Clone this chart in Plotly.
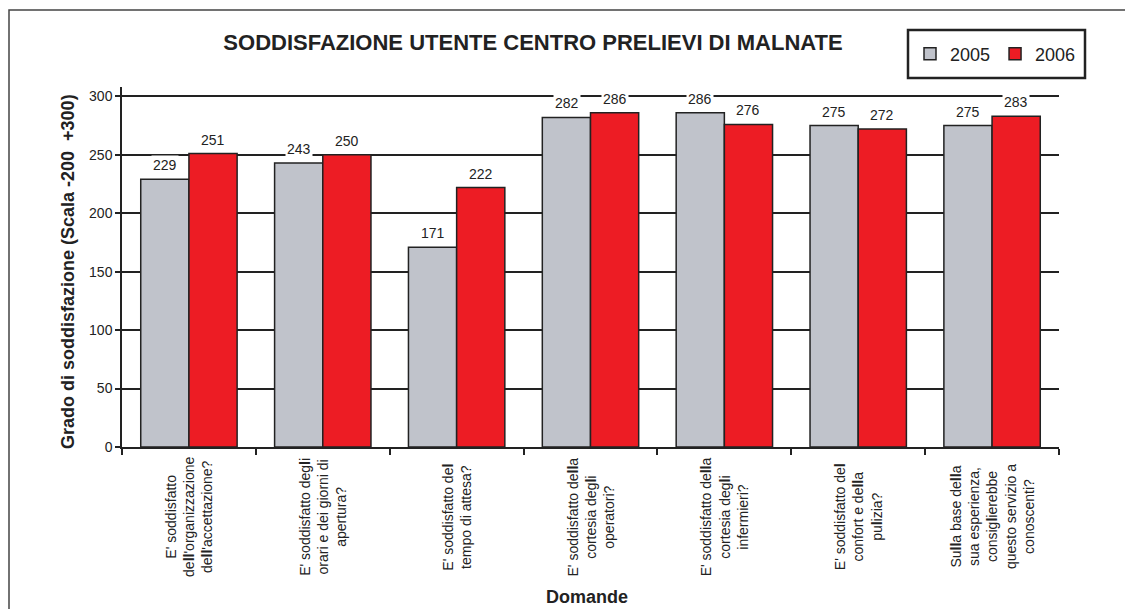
import plotly.graph_objects as go

categories = [
    "E' soddisfatto<br>de<b>ll</b>'organizzazione<br>de<b>ll</b>'accettazione?",
    "E' soddisfatto deg<b>l</b>i<br>orari e dei giorni di<br>apertura?",
    "E' soddisfatto de<b>l</b><br>tempo di attesa?",
    "E' soddisfatto de<b>ll</b>a<br>cortesia deg<b>l</b>i<br>operatori?",
    "E' soddisfatto de<b>ll</b>a<br>cortesia deg<b>l</b>i<br>infermieri?",
    "E' soddisfatto de<b>l</b><br>confort e de<b>ll</b>a<br>pu<b>l</b>izia?",
    "Su<b>ll</b>a base de<b>ll</b>a<br>sua esperienza,<br>consig<b>l</b>ierebbe<br>questo servizio a<br>conoscenti?",
]
values_2005 = [229, 243, 171, 282, 286, 275, 275]
values_2006 = [251, 250, 222, 286, 276, 272, 283]
series_names = ["2005", "2006"]
y_ticks = [0, 50, 100, 150, 200, 250, 300]

FONT = "Arial, Liberation Sans, sans-serif"
GRAY = "#C0C3CB"
RED = "#ED1C24"
INK = "#222222"

# page body adds an 8px offset; figure sized to fill the rest of the window
W, H = 1125, 601
PL, PT, PR, PB = 114, 79, 1051, 439   # plot area in figure px
PW, PH = PR - PL, PB - PT


def px(xf):
    return (xf - PL) / PW


def py(yf):
    return (PB - yf) / PH


fig = go.Figure()
fig.add_trace(go.Bar(x=categories, y=values_2005, name=series_names[0],
                     marker=dict(color=GRAY, line=dict(color=INK, width=1.5))))
fig.add_trace(go.Bar(x=categories, y=values_2006, name=series_names[1],
                     marker=dict(color=RED, line=dict(color=INK, width=1.5))))

annotations = []
for cat, v in zip(categories, values_2005):
    annotations.append(dict(x=cat, y=v, xref="x", yref="y", text=str(v), showarrow=False,
                            xshift=-24, yshift=4, yanchor="bottom", bgcolor="white",
                            font=dict(family=FONT, size=14, color=INK)))
for cat, v in zip(categories, values_2006):
    annotations.append(dict(x=cat, y=v, xref="x", yref="y", text=str(v), showarrow=False,
                            xshift=24, yshift=4, yanchor="bottom", bgcolor="white",
                            font=dict(family=FONT, size=14, color=INK)))
for cat in categories:
    annotations.append(dict(x=cat, y=0, xref="x", yref="y", text=cat, showarrow=False,
                            textangle=-90, align="center", yanchor="middle", yshift=-70,
                            font=dict(family=FONT, size=14, color=INK)))
annotations.append(dict(x=px(60), y=py(264), xref="paper", yref="paper",
                        text="<b>Grado di soddisfazione (Scala -200  +300)</b>",
                        textangle=-90, showarrow=False, xanchor="center", yanchor="middle",
                        font=dict(family=FONT, size=18, color=INK)))
annotations.append(dict(x=px(579), y=py(589), xref="paper", yref="paper",
                        text="<b>Domande</b>", showarrow=False, xanchor="center", yanchor="middle",
                        font=dict(family=FONT, size=18, color=INK)))

fig.update_layout(
    width=W, height=H,
    margin=dict(l=PL, r=W - PR, t=PT, b=H - PB, autoexpand=False),
    paper_bgcolor="white", plot_bgcolor="white",
    barmode="group", bargap=0.28, bargroupgap=0,
    font=dict(family=FONT, color=INK),
    title=dict(text="<b>SODDISFAZIONE UTENTE CENTRO PRELIEVI DI MALNATE</b>",
               x=525 / W, xref="container", xanchor="center",
               y=1 - 34 / H, yref="container", yanchor="middle",
               font=dict(family=FONT, size=22, color=INK)),
    legend=dict(orientation="h", x=px(902), y=py(46), xanchor="left", yanchor="middle",
                borderwidth=0, bgcolor="rgba(0,0,0,0)",
                font=dict(family=FONT, size=18, color=INK),
                itemwidth=30, traceorder="normal"),
    xaxis=dict(showticklabels=False, ticks="outside", ticklen=6, tickwidth=1.5,
               tickcolor=INK, tickson="boundaries", showline=True,
               linecolor=INK, linewidth=1.5, showgrid=False, fixedrange=True),
    yaxis=dict(range=[0, 308], tickvals=y_ticks, ticks="outside", ticklen=5,
               tickwidth=1.5, tickcolor=INK, showline=True, linecolor=INK,
               linewidth=1.5, showgrid=True, gridcolor=INK, gridwidth=1.5,
               zeroline=False, automargin=False,
               tickfont=dict(family=FONT, size=14, color=INK)),
    annotations=annotations,
    shapes=[
        dict(type="rect", xref="paper", yref="paper",
             x0=px(1), x1=px(W + 20), y0=py(H + 20), y1=py(2),
             line=dict(color="#444444", width=1.5), layer="below"),
        dict(type="rect", xref="paper", yref="paper",
             x0=px(900), x1=px(1077), y0=py(70), y1=py(22),
             line=dict(color=INK, width=2.5), fillcolor="white", layer="below"),
    ],
)

fig.write_html("out.html")
